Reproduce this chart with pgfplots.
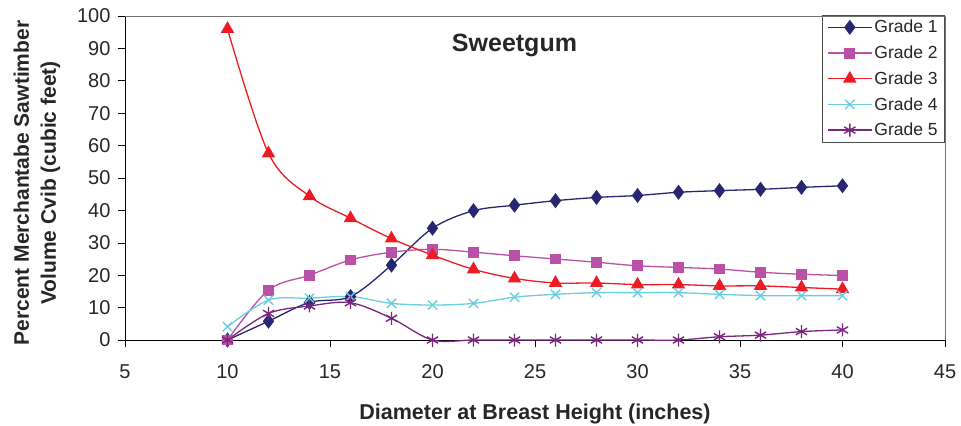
\documentclass[border=0pt]{standalone}
\usepackage{pgfplots}
\pgfplotsset{compat=1.18}
\usepackage{fontspec}
\setmainfont{Liberation Sans}
\definecolor{gA}{RGB}{40,38,112}
\definecolor{gB}{RGB}{185,82,166}
\definecolor{gC}{RGB}{237,28,36}
\definecolor{gD}{RGB}{108,205,222}
\definecolor{gE}{RGB}{122,38,126}
\begin{document}
\begin{tikzpicture}
\begin{axis}[
  scale only axis,
  width=820pt, height=324pt,
  xmin=5, xmax=45, ymin=0, ymax=100,
  xtick={5,10,...,45}, ytick={0,10,...,100},
  axis x line*=bottom, axis y line*=left,
  axis line style={black, line width=0.8pt},
  tick align=outside, major tick length=7pt,
  tick style={black, line width=0.6pt},
  /pgf/number format/assume math mode=true,
  ticklabel style={font=\fontsize{20}{22}\selectfont, text=black!85},
  xticklabel style={yshift=-14pt},
  yticklabel style={xshift=-4pt},
  xlabel={\textbf{Diameter at Breast Height (inches)}},
  xlabel style={font=\fontsize{21.5}{24}\selectfont, text=black!85, yshift=-18pt},
  ylabel={\textbf{Percent Merchantabe Sawtimber}\\\textbf{Volume Cvib (cubic feet)}},
  ylabel style={font=\fontsize{21}{27}\selectfont, text=black!85, align=center, yshift=10pt, xshift=-5pt},
  legend style={at={(1,1)}, anchor=north east, draw=black!70, line width=0.6pt,
    font=\fontsize{17.5}{19}\selectfont, text=black!85, row sep=7.5pt,
    inner xsep=5pt, inner ysep=3pt, cells={anchor=west}, yshift=1pt},
  legend image code/.code={\draw[mark repeat=2,mark phase=2] plot coordinates {(0pt,0pt) (22pt,0pt) (44pt,0pt)};},
  every axis plot/.append style={line width=1.3pt, smooth, tension=0.55},
  clip=false,
]
\addplot[color=gA, mark=diamond*, mark size=6.5pt, mark options={fill=gA}] coordinates {
(10,0) (12,5.8) (14,11.6) (16,13.4) (18,23.1) (20,34.5) (22,39.9) (24,41.6)
(26,43.0) (28,44.0) (30,44.6) (32,45.6) (34,46.1) (36,46.5) (38,47.1) (40,47.6)};
\addlegendentry{Grade 1}
\addplot[color=gB, mark=square*, mark size=4.8pt, mark options={fill=gB}] coordinates {
(10,0) (12,15.4) (14,20.0) (16,24.7) (18,27.1) (20,28.0) (22,27.1) (24,26.0)
(26,25.0) (28,24.0) (30,22.9) (32,22.4) (34,21.9) (36,20.9) (38,20.3) (40,19.9)};
\addlegendentry{Grade 2}
\addplot[color=gC, mark=triangle*, mark size=6.5pt, mark options={fill=gC}] coordinates {
(10,96) (12,57.6) (14,44.4) (16,37.6) (18,31.3) (20,26.2) (22,21.8) (24,19.0)
(26,17.6) (28,17.6) (30,17.1) (32,17.1) (34,16.7) (36,16.7) (38,16.2) (40,15.7)};
\addlegendentry{Grade 3}
\addplot[color=gD, mark=x, mark size=6.5pt, mark options={line width=1.4pt}] coordinates {
(10,4.1) (12,12.3) (14,12.9) (16,13.4) (18,11.3) (20,10.8) (22,11.3) (24,13.2)
(26,14.1) (28,14.6) (30,14.6) (32,14.6) (34,14.1) (36,13.7) (38,13.7) (40,13.7)};
\addlegendentry{Grade 4}
\addplot[color=gE, mark=asterisk, mark size=6.5pt, mark options={line width=1.4pt}] coordinates {
(10,0) (12,8.2) (14,10.5) (16,11.5) (18,6.7) (20,0) (22,0) (24,0)
(26,0) (28,0) (30,0) (32,0) (34,1.0) (36,1.5) (38,2.6) (40,3.1)};
\addlegendentry{Grade 5}
\node[font=\fontsize{25}{28}\selectfont\bfseries, text=black!85] at (axis cs:24,91) {Sweetgum};
\end{axis}
\draw[black!55, line width=0.8pt] (current axis.north west) -- (current axis.north east) -- (current axis.south east);
\pgfresetboundingbox
\path (current axis.south west) ++(-125pt,-85pt) coordinate (bl);
\path (current axis.north east) ++(16pt,16pt) coordinate (tr);
\useasboundingbox (bl) rectangle (tr);
\end{tikzpicture}
\end{document}
